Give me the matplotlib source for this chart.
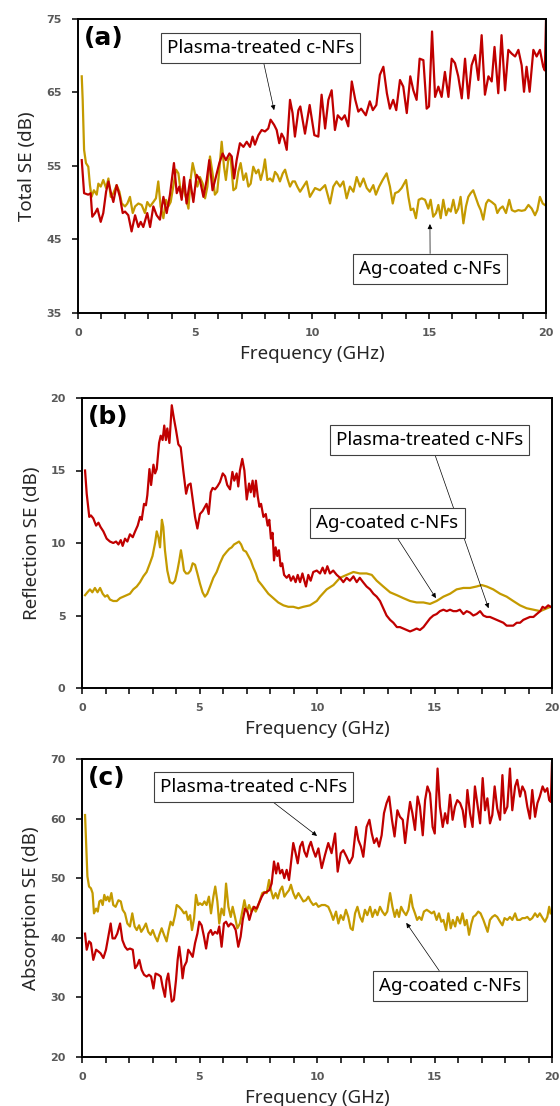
import numpy as np
import matplotlib
matplotlib.use("Agg")
import matplotlib.pyplot as plt
from matplotlib.ticker import MultipleLocator

plt.rcParams['font.family'] = ['Noto Sans', 'DejaVu Sans']

RED = '#C00000'
GOLD = '#C49A00'

############ data: (frequency GHz, dB) ############
a_plasma = [(0.16,55.8),(0.26,51.3),(0.44,51.1),(0.54,51.3),(0.61,48.1),(0.73,48.6),(0.83,49.2),(0.97,47.4),(1.08,48.6),(1.2,51.5),
    (1.3,52.9),(1.41,51.3),(1.51,50.1),(1.65,52.4),(1.79,50.8),(1.91,48.6),(2.01,48.8),(2.15,48.3),(2.29,46.1),(2.44,48.3),
    (2.58,46.7),(2.68,47.4),(2.79,46.7),(2.96,48.6),(3.08,46.7),(3.22,49.5),(3.36,48.3),(3.5,47.7),(3.65,50.8),(3.79,48.6),
    (3.93,51.1),(4.1,55.4),(4.22,51.3),(4.33,52.2),(4.43,50.4),(4.53,53.5),(4.64,49.9),(4.79,53.1),(4.93,50.1),(5.07,53.8),
    (5.21,53.1),(5.36,50.8),(5.5,53.1),(5.61,55.8),(5.75,51.7),(5.93,54.0),(6.04,55.4),(6.18,56.7),(6.32,55.8),(6.47,56.7),
    (6.57,56.3),(6.67,53.3),(6.78,55.8),(6.92,58.1),(7.07,57.6),(7.21,58.3),(7.35,57.6),(7.46,59.0),(7.56,57.9),(7.71,59.2),
    (7.85,59.9),(7.99,59.7),(8.13,60.1),(8.23,61.3),(8.38,60.6),(8.49,59.9),(8.6,58.1),(8.7,59.4),(8.8,58.8),(8.92,57.2),
    (9.06,64.0),(9.17,62.2),(9.27,59.0),(9.42,62.6),(9.5,63.1),(9.7,59.4),(9.9,63.3),(10.1,59.2),(10.27,59.0),(10.41,64.7),
    (10.56,60.1),(10.7,64.0),(10.84,65.3),(10.98,59.9),(11.1,61.9),(11.27,61.3),(11.4,61.9),(11.55,60.4),(11.7,66.5),(11.85,64.0),
    (11.98,62.4),(12.1,62.8),(12.3,61.9),(12.47,63.8),(12.6,62.6),(12.75,63.3),(12.9,67.4),(13.05,68.5),(13.2,64.9),(13.33,62.8),
    (13.47,64.0),(13.6,62.6),(13.76,66.7),(13.9,65.8),(14.05,62.2),(14.2,67.2),(14.33,65.3),(14.47,64.0),(14.6,69.6),(14.76,69.4),
    (14.9,62.8),(15.0,63.1),(15.13,73.3),(15.26,64.4),(15.4,65.8),(15.54,64.4),(15.68,67.8),(15.83,64.4),(15.97,69.6),(16.11,69.0),
    (16.25,67.2),(16.4,64.2),(16.54,69.6),(16.68,64.2),(16.82,68.7),(16.97,70.1),(17.11,66.7),(17.25,72.8),(17.39,64.7),(17.54,67.2),
    (17.68,66.5),(17.8,71.2),(17.96,64.9),(18.1,72.8),(18.25,65.3),(18.39,70.8),(18.53,70.3),(18.68,69.9),(18.82,70.8),(18.96,68.7),
    (19.06,65.1),(19.17,68.5),(19.3,65.1),(19.46,70.8),(19.6,69.9),(19.74,70.8),(19.88,68.5),(19.95,68.0),(20.0,74.8)]

a_ag = [(0.16,67.2),(0.2,64.0),(0.26,57.2),(0.34,55.4),(0.44,54.9),(0.51,52.4),(0.58,50.8),(0.68,51.7),(0.8,51.1),(0.87,52.6),
    (0.97,52.2),(1.08,53.1),(1.2,52.0),(1.3,53.3),(1.4,50.8),(1.51,51.3),(1.65,52.4),(1.77,51.5),(1.87,49.9),(2.01,49.5),
    (2.11,49.9),(2.22,50.8),(2.34,48.6),(2.44,49.5),(2.58,49.9),(2.72,49.7),(2.86,48.6),(2.96,50.1),(3.08,49.5),(3.22,50.1),
    (3.33,50.6),(3.43,52.9),(3.53,49.5),(3.65,47.9),(3.76,50.4),(3.86,49.5),(3.96,50.1),(4.07,52.2),(4.19,54.5),(4.29,54.0),
    (4.39,51.5),(4.5,52.0),(4.62,50.6),(4.72,49.2),(4.81,53.1),(4.9,55.4),(5.0,54.0),(5.1,52.2),(5.21,53.5),(5.33,52.6),
    (5.43,50.6),(5.53,52.2),(5.64,56.3),(5.75,54.0),(5.85,51.1),(5.95,51.5),(6.04,54.5),(6.14,58.3),(6.24,54.9),(6.32,53.1),
    (6.42,55.8),(6.52,56.3),(6.64,51.7),(6.75,52.0),(6.85,54.2),(6.95,55.4),(7.07,53.1),(7.18,54.0),(7.28,52.2),(7.38,52.6),
    (7.49,54.9),(7.61,54.0),(7.71,54.5),(7.81,53.1),(7.92,54.5),(7.99,55.9),(8.09,53.1),(8.21,53.3),(8.32,52.9),(8.42,54.2),
    (8.52,53.8),(8.63,52.9),(8.75,54.0),(8.85,54.5),(8.95,53.3),(9.06,52.2),(9.17,52.9),(9.27,52.9),(9.37,52.2),(9.49,51.5),
    (9.63,52.2),(9.77,52.9),(9.91,50.8),(10.13,52.0),(10.34,51.7),(10.56,52.4),(10.77,49.9),(10.91,52.2),(11.05,52.9),(11.2,52.2),
    (11.34,52.9),(11.48,50.6),(11.62,52.2),(11.77,51.5),(11.91,53.5),(12.05,52.2),(12.2,53.3),(12.34,52.0),(12.47,51.5),(12.62,52.4),
    (12.73,51.1),(12.87,52.2),(13.02,53.1),(13.19,54.0),(13.33,52.2),(13.45,49.9),(13.55,51.3),(13.69,51.5),(13.83,52.0),(14.02,53.1),
    (14.12,50.8),(14.22,49.0),(14.33,49.2),(14.44,47.9),(14.56,50.4),(14.69,50.6),(14.83,50.4),(14.97,49.2),(15.07,50.4),(15.18,48.1),
    (15.3,48.6),(15.4,49.7),(15.5,47.9),(15.61,50.4),(15.73,48.3),(15.83,49.2),(15.93,48.8),(16.04,50.4),(16.15,48.6),(16.25,49.2),
    (16.35,50.8),(16.47,47.2),(16.58,49.5),(16.68,50.8),(16.78,51.3),(16.89,51.7),(17.01,50.6),(17.11,49.7),(17.21,49.0),(17.32,47.7),
    (17.44,49.9),(17.54,50.4),(17.68,50.1),(17.83,49.7),(17.92,48.6),(18.03,49.2),(18.15,49.5),(18.29,48.6),(18.43,50.4),(18.54,49.0),
    (18.67,48.8),(18.82,49.0),(18.96,48.9),(19.1,49.0),(19.25,49.7),(19.39,49.2),(19.53,48.3),(19.63,49.0),(19.74,50.8),(19.86,49.9),
    (19.95,49.7)]

b_plasma = [(0.13,15.0),(0.2,13.4),(0.31,11.8),(0.38,11.9),(0.48,11.7),(0.6,11.2),(0.7,11.4),(0.79,11.1),(0.91,10.8),(1.05,10.3),
    (1.19,10.1),(1.33,10.0),(1.45,10.1),(1.55,9.9),(1.65,10.2),(1.73,9.8),(1.83,10.3),(1.93,10.1),(2.04,10.6),(2.16,10.4),
    (2.26,10.8),(2.37,11.2),(2.47,11.8),(2.54,11.6),(2.64,12.7),(2.72,12.6),(2.78,13.3),(2.87,15.1),(2.94,14.0),(3.04,15.4),
    (3.11,14.8),(3.18,15.1),(3.28,16.9),(3.35,17.4),(3.43,17.1),(3.5,18.1),(3.57,17.1),(3.63,17.9),(3.72,16.9),(3.82,19.5),
    (3.91,18.6),(4.0,17.8),(4.1,16.8),(4.2,16.6),(4.31,15.0),(4.43,13.4),(4.52,14.0),(4.62,14.1),(4.71,13.0),(4.81,11.8),
    (4.91,11.0),(5.02,12.0),(5.13,12.2),(5.23,12.5),(5.3,12.7),(5.39,12.0),(5.48,13.5),(5.56,13.8),(5.66,13.7),(5.76,13.9),
    (5.87,14.2),(5.99,14.8),(6.09,14.6),(6.18,14.0),(6.3,13.7),(6.4,14.9),(6.48,14.3),(6.58,14.8),(6.65,13.9),(6.72,15.0),
    (6.82,15.8),(6.91,15.0),(7.01,13.0),(7.11,14.1),(7.18,13.5),(7.26,14.3),(7.33,13.2),(7.4,14.3),(7.48,13.2),(7.55,12.5),
    (7.62,12.7),(7.72,11.8),(7.82,12.0),(7.9,11.2),(7.97,11.6),(8.04,10.3),(8.11,10.7),(8.17,8.8),(8.24,9.7),(8.31,9.1),
    (8.38,9.5),(8.45,8.4),(8.52,8.6),(8.6,7.8),(8.71,7.6),(8.81,7.8),(8.89,7.4),(8.99,7.7),(9.09,7.3),(9.18,7.8),
    (9.28,7.3),(9.38,7.9),(9.46,7.4),(9.53,7.0),(9.63,7.8),(9.73,7.4),(9.84,8.0),(9.99,8.1),(10.13,7.9),(10.24,8.3),
    (10.34,7.9),(10.44,8.4),(10.55,7.9),(10.69,8.1),(10.84,7.8),(10.98,7.6),(11.12,7.3),(11.26,7.6),(11.4,7.4),(11.55,7.7),
    (11.69,7.3),(11.82,7.6),(11.96,7.3),(12.11,7.0),(12.26,6.8),(12.4,6.5),(12.54,6.3),(12.68,6.0),(12.82,5.5),(12.96,5.0),
    (13.11,4.7),(13.25,4.5),(13.4,4.2),(13.53,4.2),(13.67,4.1),(13.82,4.0),(13.96,3.9),(14.11,4.0),(14.24,4.1),(14.38,4.0),
    (14.53,4.2),(14.67,4.5),(14.81,4.8),(14.95,5.0),(15.09,5.1),(15.23,5.3),(15.38,5.4),(15.52,5.3),(15.66,5.4),(15.8,5.3),
    (15.94,5.3),(16.08,5.4),(16.23,5.1),(16.37,5.3),(16.51,5.2),(16.65,5.0),(16.79,5.1),(16.94,5.3),(17.08,5.0),(17.22,4.9),
    (17.36,4.9),(17.5,4.8),(17.65,4.7),(17.79,4.6),(17.93,4.5),(18.07,4.3),(18.21,4.3),(18.35,4.3),(18.5,4.5),(18.64,4.5),
    (18.78,4.7),(18.92,4.8),(19.06,4.9),(19.21,4.9),(19.35,5.1),(19.5,5.3),(19.6,5.6),(19.7,5.5),(19.84,5.7),(19.94,5.6)]

b_ag = [(0.13,6.4),(0.23,6.6),(0.34,6.8),(0.44,6.6),(0.55,6.9),(0.66,6.6),(0.77,6.9),(0.88,6.5),(0.98,6.3),(1.08,6.4),
    (1.19,6.1),(1.33,6.0),(1.48,6.0),(1.62,6.2),(1.76,6.3),(1.9,6.4),(2.04,6.5),(2.18,6.8),(2.33,7.0),(2.47,7.3),
    (2.61,7.7),(2.75,8.0),(2.89,8.6),(3.0,9.1),(3.11,10.0),(3.18,10.8),(3.25,10.4),(3.32,9.7),(3.4,11.6),(3.46,11.1),
    (3.53,9.5),(3.63,8.1),(3.74,7.3),(3.86,7.2),(3.96,7.4),(4.06,8.1),(4.14,8.8),(4.21,9.5),(4.28,8.8),(4.34,8.1),
    (4.43,7.9),(4.52,7.9),(4.62,8.1),(4.71,8.6),(4.81,8.5),(4.91,7.9),(5.02,7.2),(5.13,6.6),(5.23,6.3),(5.33,6.5),
    (5.45,7.0),(5.59,7.6),(5.73,8.0),(5.87,8.6),(6.01,9.1),(6.16,9.4),(6.27,9.6),(6.37,9.7),(6.47,9.9),(6.58,10.0),
    (6.68,10.1),(6.77,9.9),(6.87,9.5),(6.98,9.4),(7.08,9.1),(7.18,8.8),(7.29,8.3),(7.4,7.9),(7.5,7.4),(7.65,7.1),
    (7.79,6.8),(7.93,6.5),(8.07,6.3),(8.21,6.1),(8.35,5.9),(8.57,5.7),(8.78,5.6),(8.99,5.6),(9.21,5.5),(9.42,5.6),
    (9.7,5.7),(9.99,6.0),(10.13,6.3),(10.41,6.8),(10.7,7.1),(10.98,7.6),(11.26,7.8),(11.55,8.0),(11.82,7.9),(12.11,7.9),
    (12.33,7.8),(12.54,7.4),(12.82,7.0),(13.11,6.6),(13.4,6.4),(13.67,6.2),(13.96,6.0),(14.24,5.9),(14.53,5.9),(14.81,5.8),
    (15.09,6.0),(15.38,6.3),(15.66,6.5),(15.94,6.8),(16.23,6.9),(16.51,6.9),(16.79,7.0),(17.01,7.1),(17.22,7.0),(17.5,6.8),
    (17.79,6.5),(18.07,6.3),(18.35,6.0),(18.64,5.7),(18.92,5.5),(19.21,5.4),(19.5,5.3),(19.79,5.5),(19.94,5.6)]

c_plasma = [(0.13,40.7),(0.2,38.0),(0.3,39.4),(0.38,39.1),(0.48,36.3),(0.6,38.0),(0.7,37.7),(0.79,37.4),(0.91,36.6),(1.02,38.0),
    (1.12,40.2),(1.22,42.4),(1.3,39.9),(1.4,39.9),(1.5,40.7),(1.62,42.4),(1.72,39.6),(1.83,38.5),(1.93,38.0),(2.04,38.2),
    (2.16,38.0),(2.26,34.9),(2.35,35.4),(2.44,36.3),(2.54,34.6),(2.64,33.8),(2.75,33.5),(2.85,33.8),(2.94,33.5),(3.04,31.5),
    (3.13,34.0),(3.25,33.8),(3.35,33.5),(3.43,31.8),(3.53,30.1),(3.6,32.9),(3.67,34.0),(3.74,31.8),(3.82,29.3),(3.91,29.6),
    (4.0,32.9),(4.07,36.3),(4.14,38.5),(4.21,36.3),(4.28,33.2),(4.35,35.2),(4.45,36.0),(4.52,38.0),(4.62,37.4),(4.71,36.8),
    (4.81,39.1),(4.91,40.7),(4.99,42.7),(5.09,42.1),(5.19,40.2),(5.28,38.2),(5.38,40.7),(5.48,41.3),(5.56,40.5),(5.66,41.0),
    (5.76,40.7),(5.84,41.9),(5.94,38.5),(6.04,42.4),(6.13,42.7),(6.23,41.9),(6.33,42.4),(6.44,42.1),(6.54,41.3),(6.65,38.5),
    (6.75,40.2),(6.84,43.0),(6.94,44.9),(7.04,44.4),(7.12,43.0),(7.22,44.4),(7.32,45.2),(7.43,44.9),(7.53,45.8),(7.65,46.9),
    (7.74,47.5),(7.86,47.7),(7.97,48.0),(8.07,49.1),(8.17,52.8),(8.26,50.8),(8.34,52.5),(8.43,50.8),(8.52,51.4),(8.61,50.0),
    (8.71,51.4),(8.81,49.7),(8.89,52.5),(8.99,55.9),(9.09,54.2),(9.18,52.5),(9.28,55.3),(9.38,56.1),(9.46,54.5),(9.56,53.6),
    (9.66,55.3),(9.74,56.1),(9.84,54.7),(9.94,53.6),(10.06,55.0),(10.2,51.7),(10.34,53.9),(10.48,55.9),(10.62,54.2),(10.77,57.5),
    (10.88,51.1),(11.01,54.2),(11.12,54.7),(11.26,53.6),(11.38,52.5),(11.52,53.6),(11.66,58.6),(11.76,56.4),(11.87,55.3),(11.97,53.6),
    (12.11,58.6),(12.23,59.8),(12.33,57.5),(12.43,55.9),(12.54,56.7),(12.64,55.3),(12.75,57.2),(12.85,60.9),(12.96,62.6),(13.07,63.7),
    (13.19,59.8),(13.3,57.0),(13.42,61.4),(13.53,60.3),(13.65,59.8),(13.75,55.9),(13.86,59.8),(13.96,62.8),(14.06,60.9),(14.17,58.1),
    (14.28,63.7),(14.38,62.0),(14.5,57.2),(14.6,63.1),(14.7,65.4),(14.81,64.2),(14.92,58.6),(15.01,57.5),(15.13,68.4),(15.23,62.0),
    (15.35,58.6),(15.45,60.9),(15.55,59.2),(15.66,64.0),(15.77,59.8),(15.87,62.0),(15.97,63.1),(16.09,62.6),(16.2,61.4),(16.3,58.6),
    (16.4,64.8),(16.51,60.9),(16.62,58.6),(16.72,65.4),(16.82,62.6),(16.94,59.2),(17.05,66.8),(17.15,61.4),(17.25,63.4),(17.36,59.2),
    (17.46,60.6),(17.56,65.4),(17.67,61.7),(17.79,59.8),(17.89,67.3),(17.98,60.9),(18.1,62.0),(18.21,68.4),(18.31,61.4),(18.43,65.4),
    (18.52,66.5),(18.64,63.7),(18.74,65.4),(18.85,64.5),(18.95,62.0),(19.06,60.0),(19.16,64.8),(19.28,60.3),(19.38,62.6),(19.48,63.7),
    (19.6,65.4),(19.7,64.5),(19.8,65.1),(19.88,63.1),(19.95,62.8),(20.0,69.3)]

c_ag = [(0.13,60.6),(0.18,55.3),(0.23,50.3),(0.3,48.6),(0.38,48.3),(0.45,47.5),(0.51,44.1),(0.6,44.9),(0.67,44.4),(0.74,46.1),
    (0.81,46.3),(0.88,45.5),(0.95,47.2),(1.02,46.3),(1.09,46.9),(1.16,46.1),(1.25,47.5),(1.33,45.5),(1.43,45.2),(1.55,46.3),
    (1.65,46.1),(1.73,44.7),(1.83,44.1),(1.93,42.4),(2.04,41.9),(2.14,44.1),(2.24,41.9),(2.33,41.3),(2.43,42.1),(2.52,41.0),
    (2.62,41.6),(2.72,42.4),(2.82,41.0),(2.92,40.5),(3.01,41.3),(3.11,40.2),(3.21,39.4),(3.29,40.5),(3.39,41.6),(3.49,40.5),
    (3.6,39.4),(3.69,41.3),(3.77,42.7),(3.86,42.1),(3.96,43.8),(4.03,45.5),(4.13,45.2),(4.24,44.7),(4.34,44.1),(4.43,44.4),
    (4.51,43.0),(4.6,43.8),(4.68,41.3),(4.77,43.3),(4.85,47.2),(4.94,45.5),(5.02,45.8),(5.12,45.5),(5.21,46.1),(5.3,45.5),
    (5.4,46.9),(5.49,44.1),(5.59,46.9),(5.67,48.6),(5.76,46.1),(5.84,42.4),(5.94,44.9),(6.04,43.8),(6.13,49.1),(6.23,45.2),
    (6.33,43.5),(6.41,45.2),(6.51,43.5),(6.61,41.6),(6.72,42.4),(6.82,44.4),(6.91,46.3),(7.01,44.4),(7.11,45.5),(7.21,44.4),
    (7.29,45.2),(7.39,44.4),(7.48,45.2),(7.57,46.3),(7.67,47.5),(7.76,47.7),(7.86,47.5),(7.96,49.7),(8.04,48.0),(8.14,46.6),
    (8.24,47.5),(8.33,46.6),(8.43,48.0),(8.52,48.6),(8.61,46.9),(8.71,47.5),(8.81,48.0),(8.89,48.9),(8.99,47.5),(9.09,46.6),
    (9.21,47.5),(9.3,46.9),(9.42,46.1),(9.53,46.3),(9.63,46.9),(9.73,46.1),(9.84,45.5),(9.96,45.8),(10.06,45.2),(10.2,45.5),
    (10.34,45.5),(10.48,45.2),(10.6,44.1),(10.69,43.0),(10.81,44.4),(10.91,42.4),(11.01,43.8),(11.12,43.0),(11.23,44.7),(11.33,43.5),
    (11.43,41.6),(11.52,41.3),(11.62,44.1),(11.72,45.2),(11.83,43.5),(11.93,42.7),(12.04,44.7),(12.14,43.8),(12.26,45.2),(12.36,43.5),
    (12.47,44.7),(12.57,43.8),(12.68,45.2),(12.78,44.4),(12.89,43.8),(12.99,44.4),(13.11,47.5),(13.21,45.2),(13.31,43.5),(13.4,44.7),
    (13.49,43.5),(13.58,45.2),(13.68,44.4),(13.79,43.8),(13.89,44.7),(13.99,47.2),(14.07,45.2),(14.17,44.1),(14.26,43.0),(14.35,43.5),
    (14.45,43.0),(14.55,44.4),(14.67,44.7),(14.78,44.4),(14.88,44.1),(14.98,44.4),(15.09,43.0),(15.19,44.1),(15.29,42.7),(15.38,43.0),
    (15.49,41.3),(15.59,44.1),(15.69,41.6),(15.78,43.0),(15.88,41.9),(15.97,43.5),(16.09,42.4),(16.19,44.1),(16.29,42.1),(16.37,43.0),
    (16.47,40.5),(16.57,42.4),(16.65,43.5),(16.75,43.8),(16.86,44.4),(16.96,44.1),(17.08,43.0),(17.18,41.9),(17.26,41.0),(17.36,43.0),
    (17.46,43.5),(17.57,43.8),(17.67,43.5),(17.79,42.7),(17.89,42.1),(17.98,43.3),(18.1,43.0),(18.21,43.5),(18.31,43.0),(18.43,44.1),
    (18.52,43.0),(18.64,43.0),(18.74,43.3),(18.85,43.3),(18.95,43.5),(19.06,43.0),(19.16,43.3),(19.28,44.1),(19.38,43.5),(19.48,44.1),
    (19.6,43.3),(19.7,42.7),(19.8,43.5),(19.88,45.2),(19.94,44.1)]

ylabels = ['Total SE (dB)', 'Reflection SE (dB)', 'Absorption SE (dB)']
panel_tags = ['(a)', '(b)', '(c)']
ylims = [(35, 75), (0, 20), (20, 70)]
yticks = [[35, 45, 55, 65, 75], [0, 5, 10, 15, 20], [20, 30, 40, 50, 60, 70]]

# annotation text position / arrow tip, data coords
notes = [
    [('Plasma-treated c-NFs', (7.8, 71.0), (8.38, 62.6)), ('Ag-coated c-NFs', (15.05, 41.0), (15.04, 47.1))],
    [('Plasma-treated c-NFs', (14.8, 17.1), (17.3, 5.5)), ('Ag-coated c-NFs', (13.0, 11.4), (15.06, 6.2))],
    [('Plasma-treated c-NFs', (7.3, 65.3), (10.0, 57.1)), ('Ag-coated c-NFs', (15.65, 31.9), (13.8, 42.5))],
]

############# Plot ##################
fig = plt.figure(figsize=(5.6, 11.06), dpi=100)
W, H = 560.0, 1106.0
boxes = [(78, 19, 546, 313), (82, 398, 552, 688), (82, 759, 552, 1057)]
series = [(a_plasma, a_ag), (b_plasma, b_ag), (c_plasma, c_ag)]

for i in range(3):
    x0, y0, x1, y1 = boxes[i]
    ax = fig.add_axes([x0 / W, 1 - y1 / H, (x1 - x0) / W, (y1 - y0) / H])
    red, ag = series[i]
    fr, vr = np.array(red).T
    fa, va = np.array(ag).T
    ax.plot(fa, va, color=GOLD, lw=1.6, solid_joinstyle='round')
    ax.plot(fr, vr, color=RED, lw=1.6, solid_joinstyle='round')

    ax.set_xlim(0, 20)
    ax.set_ylim(*ylims[i])
    ax.set_yticks(yticks[i])
    ax.xaxis.set_major_locator(MultipleLocator(5))
    ax.xaxis.set_minor_locator(MultipleLocator(1))
    ax.tick_params(which='both', direction='out', length=4.3, width=1.1, color='black')
    ax.tick_params(axis='x', pad=6.5)
    ax.tick_params(axis='y', pad=7.5)
    for lab in ax.get_xticklabels() + ax.get_yticklabels():
        lab.set_family('DejaVu Sans')
        lab.set_fontweight('bold')
        lab.set_fontsize(8)
        lab.set_color('#595959')
    for s in ax.spines.values():
        s.set_linewidth(1.4)
        s.set_color('black')

    ax.set_xlabel('Frequency (GHz)', fontsize=13.5, color='#262626', labelpad=5)
    ax.set_ylabel(ylabels[i], fontsize=13.5, color='#262626', labelpad=7)

    ax.text(0.013, 0.975, panel_tags[i], transform=ax.transAxes, ha='left', va='top',
            fontsize=18, fontweight='bold', family='DejaVu Sans', color='black')

    for txt, pos, tip in notes[i]:
        ax.annotate(txt, xy=tip, xytext=pos, ha='center', va='center', fontsize=13.5, color='black',
                    bbox=dict(boxstyle='square,pad=0.32', fc='white', ec='#404040', lw=0.8),
                    arrowprops=dict(arrowstyle='-|>', color='black', lw=0.5, mutation_scale=7,
                                    shrinkA=0, shrinkB=0))

plt.savefig('out.png', dpi=100)
